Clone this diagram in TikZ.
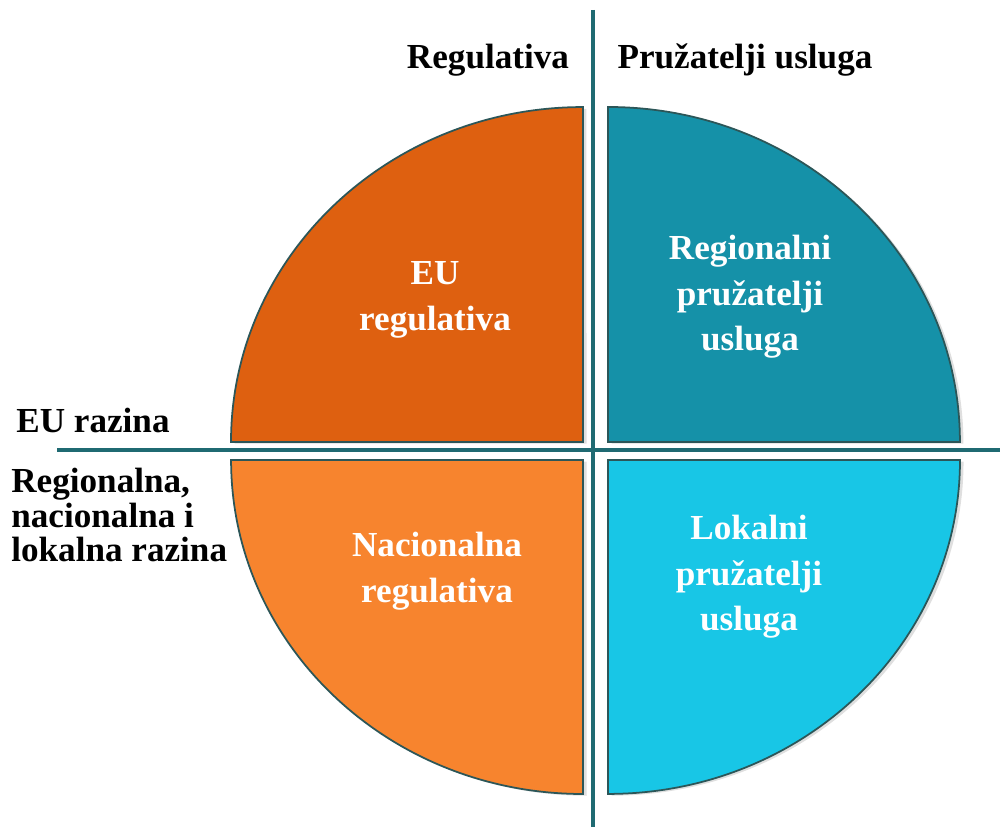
\documentclass[tikz,border=0pt]{standalone}
\usepackage{fontspec}
\setmainfont{Liberation Serif}
\usepackage{tikz}
\usetikzlibrary{positioning}
\usetikzlibrary{shadows}
\definecolor{cregdark}{HTML}{DE6010}
\definecolor{creglight}{HTML}{F7842E}
\definecolor{cprodark}{HTML}{1591A8}
\definecolor{cprolight}{HTML}{18C6E6}
\definecolor{caxis}{HTML}{1F6A72}
\definecolor{cedge}{HTML}{2C5658}
\tikzstyle{quad}  = [draw=cedge, line width=1pt, drop shadow={shadow xshift=2pt, shadow yshift=-1pt, opacity=0.25}]
\tikzstyle{axis}  = [draw=caxis, line width=2pt]
\tikzstyle{head}  = [inner sep=0pt, font=\bfseries\fontsize{20}{24}\selectfont]
\tikzstyle{side}  = [inner sep=0pt, anchor=west, align=left, font=\bfseries\fontsize{20}{19.5}\selectfont]
\tikzstyle{inner} = [inner sep=0pt, align=center, text=white, font=\bfseries\fontsize{20}{26}\selectfont]

\begin{document}
\begin{tikzpicture}[x=0.02cm, y=0.02cm]
     \useasboundingbox (0,0) rectangle (1000,827);
     \filldraw[quad, fill=cregdark]
       (583,385) -- (231,385) arc[start angle=180, end angle=90, x radius=7.04cm, y radius=6.7cm] -- cycle;
     \filldraw[quad, fill=cprodark]
       (608,385) -- (608,720) arc[start angle=90, end angle=0, x radius=7.04cm, y radius=6.7cm] -- cycle;
     \filldraw[quad, fill=creglight]
       (583,367) -- (583,33) arc[start angle=270, end angle=180, x radius=7.04cm, y radius=6.68cm] -- cycle;
     \filldraw[quad, fill=cprolight]
       (608,367) -- (960,367) arc[start angle=0, end angle=-90, x radius=7.04cm, y radius=6.68cm] -- cycle;
     \coordinate (vtop)   at (593,817);
     \coordinate (vbot)   at (593,0);
     \coordinate (hleft)  at (57,377);
     \coordinate (hright) at (1000,377);
     \draw[axis] (vtop) -- (vbot);
     \draw[axis] (hleft) -- (hright);
     \draw
       node[head] (regulativa) at (488,767) {Regulativa}
       node[head] (pruzatelji) at (745,767) {Pružatelji usluga}
       node[side] (eurazina)   at (16,407)  {EU razina}
       node[side] (lokrazina)  at (11,312)  {Regionalna,\\nacionalna i\\lokalna razina};
     \draw
       node[inner] (euregul)  at (435,527) {EU\\regulativa}
       node[inner] (regpruz)  at (750,530) {Regionalni\\pružatelji\\usluga}
       node[inner] (nacregul) at (437,256) {Nacionalna\\regulativa}
       node[inner] (lokpruz)  at (749,250) {Lokalni\\pružatelji\\usluga};
\end{tikzpicture}
\end{document}
